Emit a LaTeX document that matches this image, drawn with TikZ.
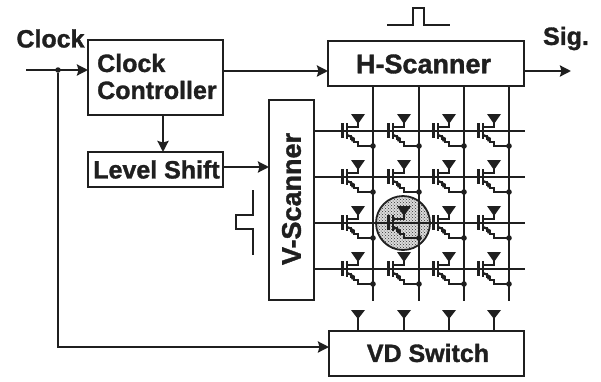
\documentclass[tikz,border=0pt]{standalone}
\usepackage{fontspec}
\setmainfont[BoldFeatures={FakeBold=1.3}]{Liberation Sans}
\usepackage{xcolor}
\usetikzlibrary{arrows.meta,patterns}
\colorlet{ink}{black!88}
\tikzset{
  block/.style={rectangle,draw=ink,line width=2.8pt,fill=white,inner sep=0pt,outer sep=0pt,text=ink},
  lab/.style={font=\bfseries\fontsize{25}{27}\selectfont,text=ink,inner sep=0pt},
  labwide/.style={font=\bfseries\fontsize{27}{30}\selectfont,text=ink,inner sep=0pt},
  wire/.style={line width=2.6pt,ink},
  sigedge/.style={line width=2.6pt,ink,-{Stealth[length=11pt,width=11pt,inset=1.5pt]}},
  thin pulse/.style={line width=2.3pt,ink},
  jdot/.style={circle,fill=ink,inner sep=0pt,minimum size=5.5pt},
  selcircle/.style={circle,draw=ink,line width=1.8pt,minimum size=54pt,inner sep=0pt,fill=black!14,postaction={pattern=crosshatch dots,pattern color=black!80}},
  vdtip/.pic={\fill[ink] (-7,-7)--(7,-7)--(0,2)--cycle;},
  pixel/.pic={
    \draw[wire,line width=2.8pt] (-30.5,-8)--(-30.5,7);
    \draw[wire,line width=2.8pt] (-26,-8)--(-26,8);
    \draw[wire] (-26,-4)--(-15,-4)--(-15,-9);
    \fill[ink] (-22,-17)--(-8,-17)--(-15,-7)--cycle;
    \draw[wire] (-26,5)--(-22,5)--(-22,8)--(-19,8)--(-19,11)--(-15,11)--(-15,15)--(0,15);
    \fill[ink] (-25,3)--(-18,7)--(-21,11)--cycle;
    \fill[ink] (0,15) circle (2.8);
  }
}
\begin{document}
\begin{tikzpicture}[x=1pt,y=-1pt]
  \useasboundingbox (0,0) rectangle (601,381);
  % blocks
  \node[block,minimum width=135pt,minimum height=75pt] (CC) at (155.5,77.5) {};
  \node[lab,align=left,anchor=west] (CCtext) at (97,76.5) {Clock\\Controller};
  \node[block,minimum width=135pt,minimum height=35pt] (LS) at (155.5,169.5) {};
  \node[lab] (LStext) at (156.5,169.5) {Level Shift};
  \node[block,minimum width=45pt,minimum height=200pt] (VS) at (291.5,200) {};
  \node[labwide,rotate=90] (VStext) at (291.5,199) {V-Scanner};
  \node[block,minimum width=196pt,minimum height=45pt] (HS) at (426,63.5) {};
  \node[labwide] (HStext) at (423.5,64) {H-Scanner};
  \node[block,minimum width=195pt,minimum height=45pt] (VD) at (426.5,353.5) {};
  \node[lab] (VDtext) at (428,353) {VD Switch};
  \node[lab] (clk) at (50.5,38.5) {Clock};
  \node[lab] (sig) at (566,38.5) {Sig.};
  % clock and control wiring
  \coordinate (clkin) at (26,70);
  \coordinate (ccin) at (88,70);
  \coordinate (ccout) at (223,71);
  \coordinate (hsin) at (328,71);
  \coordinate (hsout) at (524,71);
  \coordinate (sigend) at (571,71);
  \coordinate (vdin) at (329,347);
  \coordinate (ccdown) at (163,115);
  \coordinate (lsup) at (163,152);
  \coordinate (lsout) at (223,167);
  \coordinate (vsin) at (269,167);
  \node[jdot] (clkj) at (58,70) {};
  \draw[sigedge] (clkin)--(ccin);
  \draw[sigedge] (clkj)|-(vdin);
  \draw[sigedge] (ccout)--(hsin);
  \draw[sigedge] (hsout)--(sigend);
  \draw[sigedge] (ccdown)--(lsup);
  \draw[sigedge] (lsout)--(vsin);
  % pulses
  \draw[thin pulse] (387,25)--(413,25)--(413,8)--(424,8)--(424,25)--(450,25);
  \draw[thin pulse] (253,190)--(253,215)--(236,215)--(236,229)--(253,229)--(253,255);
  % selected pixel
  \node[selcircle] (sel) at (403,223) {};
  % array
  \foreach \r/\y in {1/131,2/177,3/223,4/269} {
    \coordinate (rl\r) at (314,\y);
    \coordinate (rr\r) at (525,\y);
    \draw[wire] (rl\r)--(rr\r);
  }
  \foreach \c/\x/\t in {1/373/358,2/419/404,3/464/449,4/509/494} {
    \coordinate (ct\c) at (\x,86);
    \coordinate (cb\c) at (\x,301);
    \draw[wire] (ct\c)--(cb\c);
    \foreach \y in {131,177,223,269}
      \pic at (\x,\y) {pixel};
    \coordinate (tip\c) at (\t,317);
    \pic at (tip\c) {vdtip};
    \draw[wire] (tip\c)--(tip\c |- VD.north);
  }
\end{tikzpicture}
\end{document}
